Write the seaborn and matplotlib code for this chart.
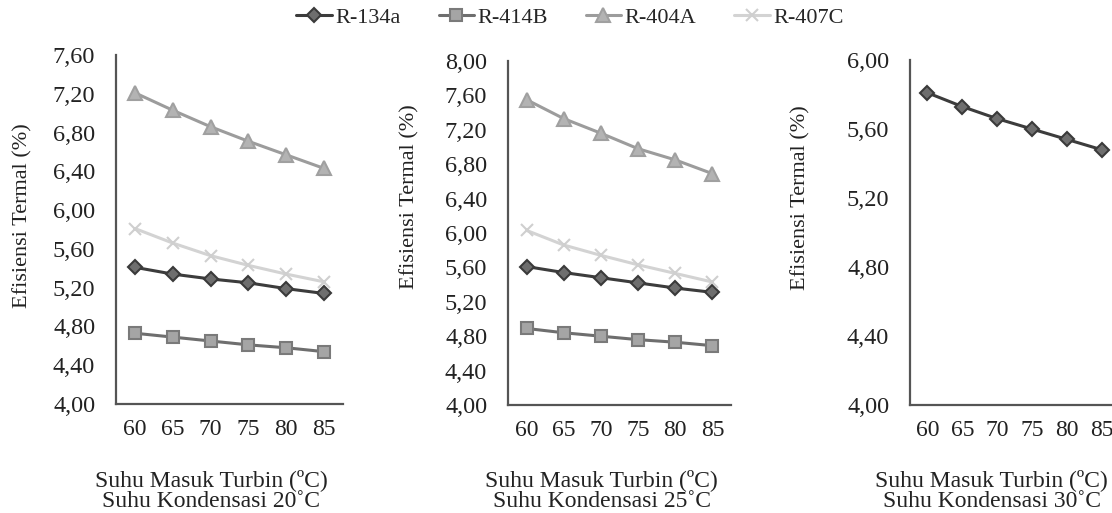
import matplotlib
matplotlib.use("Agg")
import matplotlib.pyplot as plt
import seaborn as sns
import pandas as pd

sns.set_theme(style="white")
plt.rcParams['font.family'] = ['Liberation Serif', 'DejaVu Serif']

temps = ["60", "65", "70", "75", "80", "85"]
refrigerants = ["R-134a", "R-414B", "R-404A", "R-407C"]

# Panel 1: condensation 20 C
p1_r134a = [5.41, 5.34, 5.29, 5.25, 5.19, 5.14]
p1_r414b = [4.73, 4.69, 4.65, 4.61, 4.58, 4.54]
p1_r404a = [7.21, 7.03, 6.86, 6.71, 6.57, 6.43]
p1_r407c = [5.81, 5.66, 5.53, 5.43, 5.34, 5.26]
# Panel 2: condensation 25 C
p2_r134a = [5.61, 5.54, 5.48, 5.42, 5.36, 5.31]
p2_r414b = [4.89, 4.84, 4.80, 4.76, 4.73, 4.69]
p2_r404a = [7.55, 7.33, 7.16, 6.98, 6.85, 6.69]
p2_r407c = [6.03, 5.86, 5.74, 5.63, 5.53, 5.43]
# Panel 3: condensation 30 C
p3_r134a = [5.81, 5.73, 5.66, 5.60, 5.54, 5.48]

p1_yticks = [4.00, 4.40, 4.80, 5.20, 5.60, 6.00, 6.40, 6.80, 7.20, 7.60]
p2_yticks = [4.00, 4.40, 4.80, 5.20, 5.60, 6.00, 6.40, 6.80, 7.20, 7.60, 8.00]
p3_yticks = [4.00, 4.40, 4.80, 5.20, 5.60, 6.00]

xlabels = ["Suhu Masuk Turbin (\u00baC)\nSuhu Kondensasi 20\u02daC",
           "Suhu Masuk Turbin (\u00baC)\nSuhu Kondensasi 25\u02daC",
           "Suhu Masuk Turbin (\u00baC)\nSuhu Kondensasi 30\u02daC"]
ylabel = "Efisiensi Termal (%)"

styles = {
    "R-134a": dict(color="#3c3c3c", marker="D", mfc="#6e6e6e", mec="#3a3a3a", ms=7),
    "R-414B": dict(color="#6e6e6e", marker="s", mfc="#a5a5a5", mec="#7a7a7a", ms=9),
    "R-404A": dict(color="#9c9c9c", marker="^", mfc="#b3b3b3", mec="#a0a0a0", ms=10),
    "R-407C": dict(color="#d3d3d3", marker="x", mfc="#d3d3d3", mec="#cfcfcf", ms=9),
}

panels = [
    dict(series={"R-134a": p1_r134a, "R-414B": p1_r414b, "R-404A": p1_r404a, "R-407C": p1_r407c},
         yticks=p1_yticks, rect=[116/1112, 1-404/513, 227/1112, 349/513],
         ylab=(-0.366, 0.54), xlab=(0.42, -0.185)),
    dict(series={"R-134a": p2_r134a, "R-414B": p2_r414b, "R-404A": p2_r404a, "R-407C": p2_r407c},
         yticks=p2_yticks, rect=[508/1112, 1-405/513, 223/1112, 344/513],
         ylab=(-0.395, 0.605), xlab=(0.42, -0.185)),
    dict(series={"R-134a": p3_r134a},
         yticks=p3_yticks, rect=[910/1112, 1-405/513, 209/1112, 345/513],
         ylab=(-0.478, 0.60), xlab=(0.39, -0.185)),
]

fig = plt.figure(figsize=(11.12, 5.13), dpi=100)
handles = {}
for i, p in enumerate(panels):
    ax = fig.add_axes(p["rect"])
    for name, vals in p["series"].items():
        df = pd.DataFrame({"x": list(range(len(temps))), "y": vals})
        st = styles[name]
        sns.lineplot(data=df, x="x", y="y", ax=ax, color=st["color"], lw=2.2,
                     marker=st["marker"], markersize=st["ms"], markerfacecolor=st["mfc"],
                     markeredgecolor=st["mec"], markeredgewidth=1.5, label=name, legend=False)
        handles[name] = ax.lines[-1]
    ax.set_xlim(-0.5, len(temps) - 0.5)
    ax.set_xticks(range(len(temps)))
    ax.set_xticklabels(temps, fontsize=17)
    yt = p["yticks"]
    ax.set_ylim(yt[0], yt[-1])
    ax.set_yticks(yt)
    ax.set_yticklabels([f"{v:.2f}".replace(".", ",") for v in yt], fontsize=17.5)
    ax.tick_params(axis="both", length=0, colors="#222222")
    ax.tick_params(axis="y", pad=15)
    ax.tick_params(axis="x", pad=11)
    for s in ["top", "right"]:
        ax.spines[s].set_visible(False)
    for s in ["left", "bottom"]:
        ax.spines[s].set_color("#555555")
        ax.spines[s].set_linewidth(1.6)
    ax.set_ylabel(ylabel, fontsize=16, color="#222222")
    ax.yaxis.set_label_coords(*p["ylab"])
    ax.set_xlabel(xlabels[i], fontsize=17, color="#222222", linespacing=1.0)
    ax.xaxis.set_label_coords(*p["xlab"])
    ax.patch.set_alpha(0)

fig.legend([handles[n] for n in refrigerants], refrigerants, loc="center",
           bbox_to_anchor=(570/1112, 1-18/513), ncol=4, frameon=False, fontsize=16,
           handlelength=1.6, columnspacing=1.7, handletextpad=0.15)
fig.savefig("out.png", dpi=100)
